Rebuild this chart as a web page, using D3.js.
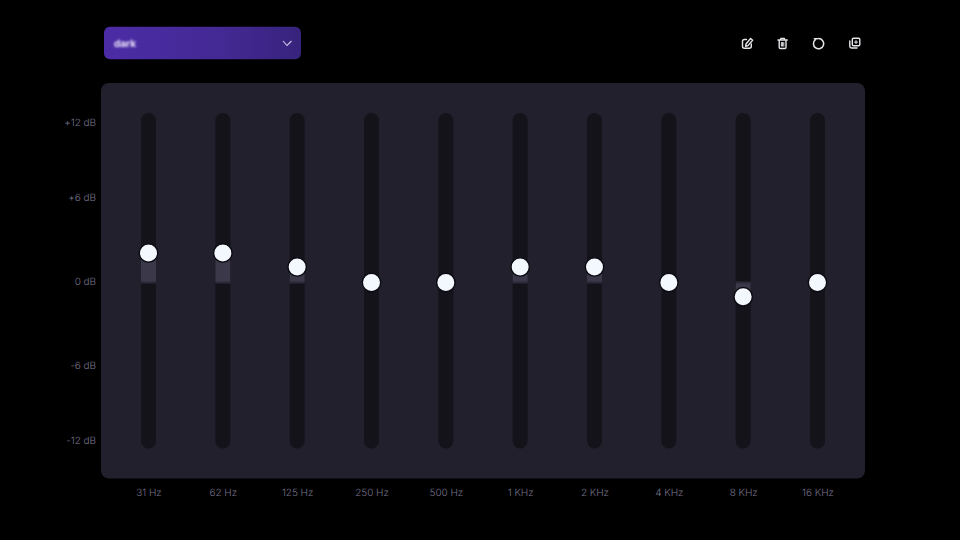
<!DOCTYPE html>
<html>
<head>
<meta charset="utf-8">
<script src="https://cdn.jsdelivr.net/npm/d3@7"></script>
<style>
html,body{margin:0;padding:0;background:#000;width:960px;height:540px;overflow:hidden}
svg{display:block}
text{font-family:Inter,"Noto Sans",sans-serif;text-rendering:geometricPrecision}
.db,.band{font-size:10px;font-weight:300;letter-spacing:-0.05px;fill:#77738c}
</style>
</head>
<body>
<svg id="c" width="960" height="540"></svg>
<script>
const bands = ["31 Hz","62 Hz","125 Hz","250 Hz","500 Hz","1 KHz","2 KHz","4 KHz","8 KHz","16 KHz"];
const gains = [2,2,1.05,0,0,1.05,1.05,0,-0.97,0];
const dbTicks = [12,6,0,-6,-12];
const dbLabels = ["+12 dB","+6 dB","0 dB","-6 dB","-12 dB"];
const presetName = ["dark"];

const svg = d3.select("#c");
const defs = svg.append("defs");
const grad = defs.append("linearGradient").attr("id","dd");
grad.append("stop").attr("offset","0%").attr("stop-color","#4c2ca6");
grad.append("stop").attr("offset","60%").attr("stop-color","#432993");
grad.append("stop").attr("offset","100%").attr("stop-color","#37237c");
defs.append("filter").attr("id","blur").attr("x","-30%").attr("y","-60%").attr("width","160%").attr("height","220%")
  .append("feGaussianBlur").attr("stdDeviation",1.3);

const x = d3.scalePoint().domain(bands).range([148.5,817.5]);
const y = d3.scaleLinear().domain([-12,12]).range([282.5+12*14.7,282.5-12*14.7]);
const yLabel = d3.scaleOrdinal().domain(dbTicks).range([122,197,281,365,440]);

// dropdown
svg.append("rect").attr("x",104).attr("y",26.7).attr("width",197).attr("height",32.6).attr("rx",6).attr("fill","url(#dd)");
svg.selectAll(".preset").data(presetName).join("text").attr("class","preset")
  .attr("x",114).attr("y",47).attr("font-size",10).attr("font-weight",700)
  .attr("fill","#efe8ff").attr("filter","url(#blur)").text(d=>d);
svg.append("path").attr("d","M283 41 L287 45.5 L291.500 41").attr("fill","none").attr("stroke","#cdc6e6").attr("stroke-width",1.1);

// icons
const ico = svg.append("g").attr("fill","none").attr("stroke","#e6e6ea").attr("stroke-width",1.4)
  .attr("stroke-linecap","round").attr("stroke-linejoin","round");
ico.append("path").attr("d","M746.500 39.500H744.500a2 2 0 0 0-2 2v4.800a2 2 0 0 0 2 2h4.800a2 2 0 0 0 2-2V44");
ico.append("path").attr("d","M746 44L750.600 38.400L752.600 40.200L748 45.600L745.700 46.200Z");
ico.append("path").attr("d","M778 40h9.200M780.800 40v-1.600h3.600v1.600M779.200 40v7.300a1.200 1.200 0 0 0 1.200 1.200h4.400a1.200 1.200 0 0 0 1.200-1.200V40");
ico.append("path").attr("d","M781.400 42.500v3.600M782.600 42.500v3.600M783.800 42.500v3.600").attr("stroke-width",1);
ico.append("path").attr("d","M815.400 39.700a5.100 5.100 0 1 0 3.200-1.100").attr("stroke-width",1.5);
ico.append("path").attr("d","M814.300 38.700L817.500 38.800").attr("stroke-width",1.4);
ico.append("rect").attr("x",852.300).attr("y",38.300).attr("width",7.500).attr("height",7.500).attr("rx",1.2);
ico.append("path").attr("d","M849.800 41v5.300a1.700 1.700 0 0 0 1.700 1.700H857");
ico.append("path").attr("d","M856 40.600v3M854.500 42.100h3").attr("stroke-width",1);

// panel
svg.append("rect").attr("x",101).attr("y",83).attr("width",764).attr("height",395.500).attr("rx",8).attr("fill","#21202c");

// db labels
svg.selectAll(".db").data(dbTicks).join("text").attr("class","db")
  .attr("x",96).attr("y",d=>yLabel(d)+4).attr("text-anchor","end")
  .text((d,i)=>dbLabels[i]);

// tracks
svg.selectAll(".track").data(bands).join("rect").attr("class","track")
  .attr("x",d=>x(d)-7.5).attr("y",113).attr("width",15).attr("height",335.500).attr("rx",7.5).attr("fill","#14131a");

// fills
const data = bands.map((b,i)=>({b,g:gains[i]}));
svg.selectAll(".fill").data(data.filter(d=>d.g!==0)).join("rect").attr("class","fill")
  .attr("x",d=>x(d.b)-7.500).attr("width",15)
  .attr("y",d=>Math.min(y(d.g),y(0))).attr("height",d=>Math.abs(y(d.g)-y(0)))
  .attr("fill","#3a3849");
svg.selectAll(".base").data(data.filter(d=>d.g!==0)).join("rect").attr("class","base")
  .attr("x",d=>x(d.b)-7.500).attr("width",15)
  .attr("y",y(0)-1).attr("height",2).attr("fill","#2b2a38");

// knobs
svg.selectAll(".knob").data(data).join("circle").attr("class","knob")
  .attr("cx",d=>x(d.b)).attr("cy",d=>y(d.g)).attr("r",9.200)
  .attr("fill","#f3f7fe").attr("stroke","#0a0a10").attr("stroke-width",1.400);

// band labels
svg.selectAll(".band").data(bands).join("text").attr("class","band")
  .attr("x",d=>x(d)+0.500).attr("y",495.500).attr("text-anchor","middle")
  .text(d=>d);
</script>
</body>
</html>
